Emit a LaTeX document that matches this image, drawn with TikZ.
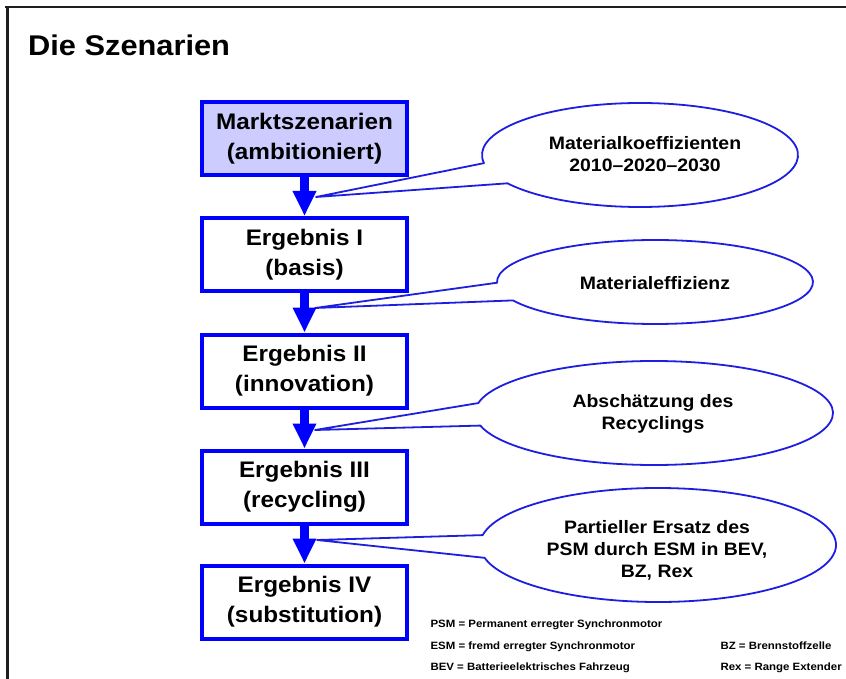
\documentclass[tikz,border=0pt]{standalone}
\usepackage{fontspec}
\setmainfont{Liberation Sans}[FakeStretch=1.08]
\usetikzlibrary{arrows.meta,calc}
\definecolor{boxblue}{RGB}{0,0,255}
\definecolor{lav}{RGB}{204,204,255}
\definecolor{bubbleblue}{RGB}{30,30,225}
\definecolor{framegray}{RGB}{30,30,30}
\begin{document}
\begin{tikzpicture}[x=1pt,y=-1pt,
  stage/.style={draw=boxblue, line width=4pt, fill=white, minimum width=205pt,
    minimum height=73pt, inner sep=0pt, align=center,
    font=\fontsize{22.5}{30}\selectfont\bfseries},
  flow/.style={draw=boxblue, line width=9pt, -{Triangle[width=22pt,length=25pt]}},
  bubble/.style={draw=bubbleblue, line width=1.8pt, fill=white, line join=round},
  bubtext/.style={align=center, font=\fontsize{18}{22}\selectfont\bfseries},
  legend/.style={anchor=base west, font=\fontsize{10.6}{13}\selectfont\bfseries}]
\useasboundingbox (0,0) rectangle (846,679);

% slide frame
\draw[framegray, line width=2pt] (5,7) -- (846,7);
\draw[framegray, line width=2.6pt] (7.3,7) -- (7.3,679);

% title
\node[anchor=base west, inner sep=0pt, font=\fontsize{28.5}{32}\selectfont\bfseries]
  (title) at (28,56) {Die Szenarien};

% speech bubbles (drawn below the flow arrows)
\coordinate (t1) at (316,197);
\coordinate (t2) at (315,308);
\coordinate (t3) at (315,430);
\coordinate (t4) at (317,540);
\draw[bubble] (640,155) ++(189:158pt and 52pt)
  arc[start angle=189, end angle=-147, x radius=158pt, y radius=52pt] -- (t1) -- cycle;
\draw[bubble] (655,282) ++(181:158pt and 42pt)
  arc[start angle=181, end angle=-154, x radius=158pt, y radius=42pt] -- (t2) -- cycle;
\draw[bubble] (654,413) ++(169:179pt and 52pt)
  arc[start angle=169, end angle=-166, x radius=179pt, y radius=52pt] -- (t3) -- cycle;
\draw[bubble] (658,545) ++(170:178pt and 57pt)
  arc[start angle=170, end angle=-167, x radius=178pt, y radius=57pt] -- (t4) -- cycle;

\node[bubtext] (c1) at (645,154) {Materialkoeffizienten\\2010–2020–2030};
\node[bubtext] (c2) at (655,283) {Materialeffizienz};
\node[bubtext] (c3) at (653,414) {Abschätzung des\\Recyclings};
\node[bubtext] (c4) at (657,550) {Partieller Ersatz des\\PSM durch ESM in BEV,\\BZ, Rex};

% scenario boxes
\node[stage, fill=lav] (s0) at (304.5,139) {Marktszenarien\\(ambitioniert)};
\node[stage] (s1) at (304.5,254.5) {Ergebnis I\\(basis)};
\node[stage] (s2) at (304.5,371) {Ergebnis II\\(innovation)};
\node[stage] (s3) at (304.5,487) {Ergebnis III\\(recycling)};
\node[stage] (s4) at (304.5,602) {Ergebnis IV\\(substitution)};

% flow arrows
\draw[flow] (s0.south) -- (s1.north);
\draw[flow] (s1.south) -- (s2.north);
\draw[flow] (s2.south) -- (s3.north);
\draw[flow] (s3.south) -- (s4.north);

% abbreviations
\node[legend] (l1) at (427,627) {PSM = Permanent erregter Synchronmotor};
\node[legend] (l2) at (427,649) {ESM = fremd erregter Synchronmotor};
\node[legend] (l3) at (427,670) {BEV = Batterieelektrisches Fahrzeug};
\node[legend] (l4) at (717,649) {BZ = Brennstoffzelle};
\node[legend] (l5) at (717,670) {Rex = Range Extender};
\end{tikzpicture}
\end{document}
